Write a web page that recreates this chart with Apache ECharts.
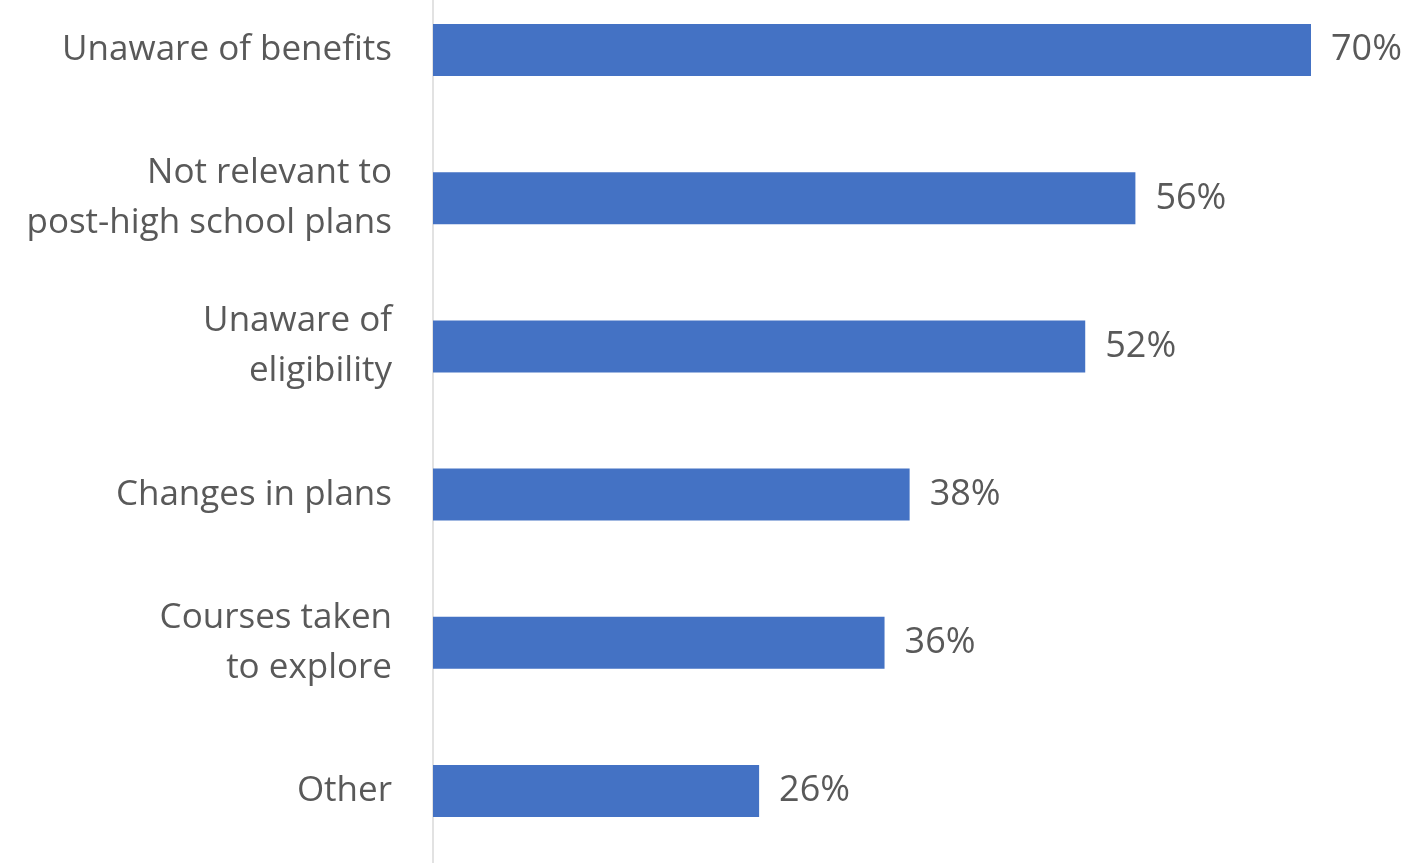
<!DOCTYPE html>
<html>
<head>
<meta charset="utf-8">
<style>
  html, body { margin: 0; padding: 0; background: #ffffff; overflow: hidden; width: 1408px; height: 863px; }
  /* The plot runs a little past the top edge of the page */
  #chart { width: 1408px; height: 889px; margin-top: -24px; }
</style>
<script src="https://cdn.jsdelivr.net/npm/echarts@6/dist/echarts.min.js"></script>
</head>
<body>
<div id="chart"></div>
<script>
// Reasons given, top to bottom
const categories = [
  'Unaware of benefits',
  'Not relevant to\npost-high school plans',
  'Unaware of\neligibility',
  'Changes in plans',
  'Courses taken\nto explore',
  'Other'
];
// Share of respondents (%)
const values = [70, 56, 52, 38, 36, 26];

const textColor = '#595959';
const fontFamily = '"Open Sans", "Noto Sans", sans-serif';

const chart = echarts.init(document.getElementById('chart'), null, { renderer: 'canvas' });
chart.setOption({
  animation: false,
  backgroundColor: '#ffffff',
  grid: { left: 433, right: 97, top: 0, bottom: 0, containLabel: false },
  xAxis: {
    type: 'value',
    min: 0,
    max: 70,
    show: false
  },
  yAxis: {
    type: 'category',
    data: categories,
    inverse: true,
    axisLine: { show: true, lineStyle: { color: '#D9D9D9', width: 1.5 } },
    axisTick: { show: false },
    axisLabel: {
      color: textColor,
      fontFamily: fontFamily,
      fontSize: 35,
      lineHeight: 50,
      margin: 41,
      align: 'right'
    }
  },
  series: [{
    type: 'bar',
    data: values,
    barWidth: 52,
    itemStyle: { color: '#4472C4' },
    label: {
      show: true,
      position: 'right',
      distance: 20,
      color: textColor,
      fontFamily: fontFamily,
      fontSize: 36,
      formatter: p => p.value + '%'
    }
  }]
});
</script>
</body>
</html>
